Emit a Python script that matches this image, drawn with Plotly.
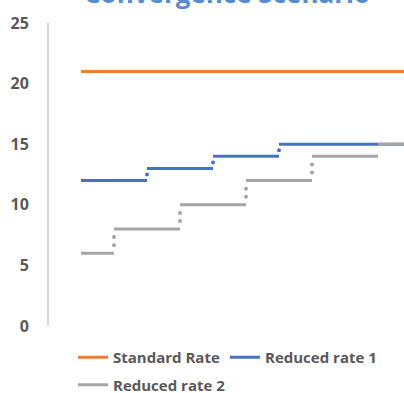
import plotly.graph_objects as go

# Half-year periods (0 = start); levels hold between consecutive breakpoints
standard_breaks = [0, 10]
standard_levels = [21]

reduced1_breaks = [0, 2, 4, 6, 10]
reduced1_levels = [12, 13, 14, 15]
reduced1_dotted = [True, True, True]          # dotted riser at each inner breakpoint

reduced2_breaks = [0, 1, 3, 5, 7, 9, 10]
reduced2_levels = [6, 8, 10, 12, 14, 15]
reduced2_dotted = [True, True, True, True, False]

y_ticks = [0, 5, 10, 15, 20, 25]

ORANGE = "#ED7D31"
BLUE = "#4472C4"
GRAY = "#A5A5A5"
TEXT = "#595959"
FONT = "Open Sans"


def flat_segments(breaks, levels):
    xs, ys = [], []
    for i, lvl in enumerate(levels):
        xs += [breaks[i], breaks[i + 1], None]
        ys += [lvl, lvl, None]
    return xs, ys


def riser_dots(breaks, levels, flags):
    # one dot per unit of rise, evenly spaced along each vertical step
    xs, ys = [], []
    for i, show in enumerate(flags):
        if not show:
            continue
        lo, hi = levels[i], levels[i + 1]
        n = int(round(hi - lo)) + 1
        for j in range(1, n):
            xs.append(breaks[i + 1])
            ys.append(lo + (hi - lo) * j / n)
    return xs, ys


fig = go.Figure()

series = [
    ("Standard Rate", standard_breaks, standard_levels, None, ORANGE, "legend"),
    ("Reduced rate 1", reduced1_breaks, reduced1_levels, reduced1_dotted, BLUE, "legend"),
    ("Reduced rate 2", reduced2_breaks, reduced2_levels, reduced2_dotted, GRAY, "legend2"),
]

for name, brk, lvl, flags, color, leg in series:
    if flags:
        dx, dy = riser_dots(brk, lvl, flags)
        fig.add_trace(go.Scatter(
            x=dx, y=dy, mode="markers", showlegend=False, hoverinfo="skip",
            marker=dict(color=color, size=4, line=dict(width=0)),
        ))
    sx, sy = flat_segments(brk, lvl)
    fig.add_trace(go.Scatter(
        x=sx, y=sy, mode="lines", name=name, legend=leg,
        line=dict(color=color, width=3), connectgaps=False,
    ))

legend_common = dict(
    orientation="h", xref="paper", x=0.0676, xanchor="left",
    yref="container", yanchor="middle",
    font=dict(family=FONT, size=15, color=TEXT, weight="bold"),
    entrywidthmode="pixels", entrywidth=107,
    bgcolor="rgba(0,0,0,0)", borderwidth=0,
)

fig.update_layout(
    width=404, height=393,
    margin=dict(l=49, r=0, t=23, b=67),
    paper_bgcolor="white", plot_bgcolor="white",
    font=dict(family=FONT, color=TEXT),
    showlegend=True,
    legend=dict(legend_common, y=1 - 357.5 / 393),
    legend2=dict(legend_common, y=1 - 385 / 393),
    xaxis=dict(
        range=[-32 / 33, 323 / 33], visible=False, showgrid=False, zeroline=False,
    ),
    yaxis=dict(
        range=[0, 25], tickvals=y_ticks, ticks="", showgrid=False, zeroline=False,
        showline=True, linecolor="#D9D9D9", linewidth=2,
        tickfont=dict(family=FONT, size=16, color=TEXT, weight="bold"),
        ticklabelstandoff=15,
    ),
    annotations=[dict(
        text="Convergence Scenario", xref="paper", yref="paper",
        x=0.5, y=1 + (23 - 13) / 303, xanchor="center", yanchor="bottom",
        showarrow=False,
        font=dict(family=FONT, size=26, color="#558CD2", weight="bold"),
    )],
)

fig.write_html("out.html")
